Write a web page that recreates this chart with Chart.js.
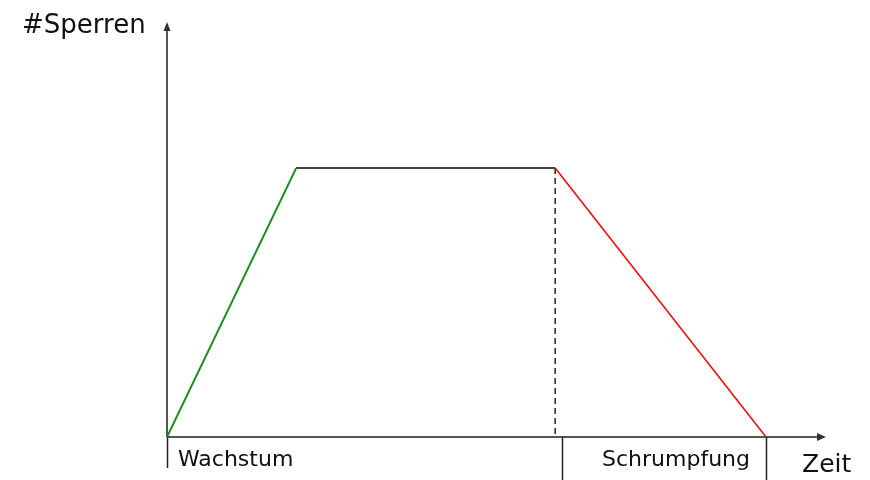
<!DOCTYPE html>
<html>
<head>
<meta charset="utf-8">
<script src="https://cdn.jsdelivr.net/npm/chart.js@4"></script>
<style>
  html, body { margin: 0; padding: 0; background: #fff; }
  #wrap { width: 870px; height: 480px; }
</style>
</head>
<body>
<div id="wrap"><canvas id="chart" width="870" height="480"></canvas></div>
<script>
// phases: growth ends at t1, plateau until t2, shrink ends at t3
const times = [0, 19.6, 58.9, 90.9];
const locks = [0, 64.8, 64.8, 0];
// where the phase separators sit on the time axis
const phaseTicks = [0, 59.9, 90.9];
const phaseLabels = ['Wachstum', 'Schrumpfung'];
const X_MAX = 100, Y_MAX = 100;

const pt = i => ({ x: times[i], y: locks[i] });

const axesPlugin = {
  id: 'axes',
  afterDraw(chart) {
    const { ctx, scales: { x, y } } = chart;
    const x0 = x.getPixelForValue(0), xEnd = x.getPixelForValue(X_MAX);
    const y0 = y.getPixelForValue(0), yEnd = y.getPixelForValue(Y_MAX);
    ctx.save();
    ctx.strokeStyle = '#555';
    ctx.fillStyle = '#333';
    ctx.lineWidth = 2;
    ctx.beginPath();
    ctx.moveTo(x0, y0); ctx.lineTo(xEnd - 4, y0);
    ctx.moveTo(x0, y0); ctx.lineTo(x0, yEnd + 4);
    ctx.stroke();
    // arrow heads
    ctx.beginPath();
    ctx.moveTo(xEnd, y0); ctx.lineTo(xEnd - 9, y0 - 4); ctx.lineTo(xEnd - 9, y0 + 4); ctx.closePath();
    ctx.moveTo(x0, yEnd); ctx.lineTo(x0 - 3.5, yEnd + 9); ctx.lineTo(x0 + 3.5, yEnd + 9); ctx.closePath();
    ctx.fill();
    // phase separators below the axis
    ctx.strokeStyle = '#222';
    ctx.lineWidth = 1.5;
    phaseTicks.forEach((t, i) => {
      const px = Math.round(x.getPixelForValue(t)) + 0.5;
      ctx.beginPath();
      ctx.moveTo(px, y0);
      ctx.lineTo(px, i === 0 ? y0 + 31 : y0 + 45);
      ctx.stroke();
    });
    // texts
    ctx.fillStyle = '#111';
    ctx.textBaseline = 'alphabetic';
    ctx.font = '22px "DejaVu Sans"';
    ctx.textAlign = 'left';
    ctx.fillText(phaseLabels[0], x.getPixelForValue(phaseTicks[0]) + 11, y0 + 29);
    ctx.textAlign = 'right';
    ctx.fillText(phaseLabels[1], x.getPixelForValue(phaseTicks[2]) - 16, y0 + 29);
    ctx.textAlign = 'left';
    ctx.font = '25px "DejaVu Sans"';
    ctx.fillText('Zeit', xEnd - 24, y0 + 35);
    ctx.font = '26px "DejaVu Sans"';
    ctx.fillText('#Sperren', 22, yEnd + 11);
    ctx.restore();
  }
};

new Chart(document.getElementById('chart'), {
  type: 'scatter',
  data: {
    datasets: [
      { data: [pt(0), pt(1)], borderColor: '#168f16', borderWidth: 2 },
      { data: [pt(1), pt(2)], borderColor: '#444', borderWidth: 2 },
      { data: [pt(2), pt(3)], borderColor: '#ff0000', borderWidth: 1.5 },
      { data: [pt(2), { x: times[2], y: 0 }], borderColor: '#000', borderWidth: 1.3, borderDash: [6, 4] }
    ].map(d => Object.assign(d, { showLine: true, pointRadius: 0, fill: false, tension: 0 }))
  },
  options: {
    responsive: false,
    animation: false,
    layout: { padding: { left: 167, right: 44, top: 22, bottom: 43 } },
    plugins: { legend: { display: false }, tooltip: { enabled: false } },
    scales: {
      x: { type: 'linear', min: 0, max: X_MAX, display: false },
      y: { type: 'linear', min: 0, max: Y_MAX, display: false }
    }
  },
  plugins: [axesPlugin]
});
</script>
</body>
</html>
